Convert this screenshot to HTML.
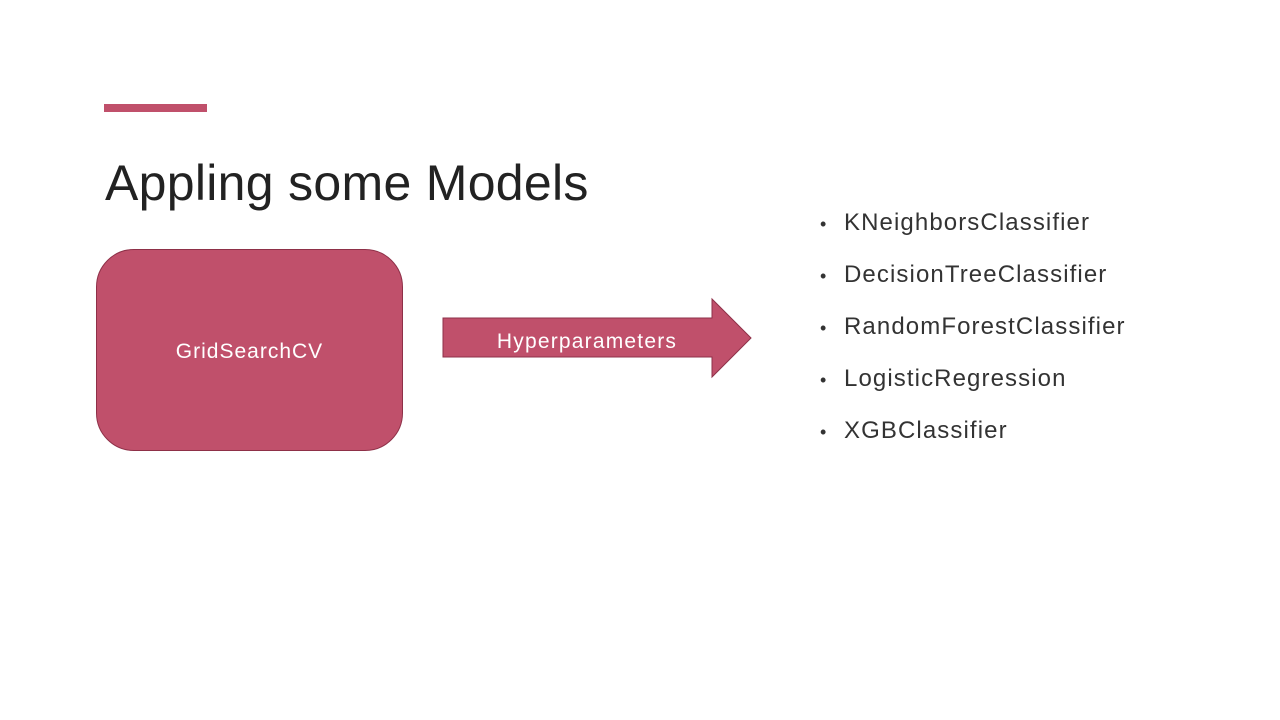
<!DOCTYPE html>
<html><head><meta charset="utf-8"><style>
body{margin:0;width:1280px;height:720px;background:#fff;position:relative;overflow:hidden;font-family:"Liberation Sans",sans-serif;}
.bar{position:absolute;left:104px;top:104px;width:103px;height:8px;background:#c0506b;}
h1{position:absolute;left:105px;top:154px;margin:0;font-weight:normal;font-size:50px;color:#222;letter-spacing:0.3px;}
.box{position:absolute;left:96px;top:249px;width:307px;height:202px;background:#c0506b;border:1px solid #8e3048;border-radius:38px;box-sizing:border-box;color:#fff;font-size:21px;letter-spacing:1px;display:flex;align-items:center;justify-content:center;padding-top:4px;}
ul{position:absolute;left:820px;top:205px;margin:0;padding:0;list-style:none;font-size:24px;color:#333;letter-spacing:1.1px;}
li{height:52px;line-height:36px;}
li:before{content:"•";font-size:18px;display:inline-block;width:24px;letter-spacing:0;}
</style></head><body>
<div class="bar"></div>
<h1>Appling some Models</h1>
<div class="box">GridSearchCV</div>
<svg style="position:absolute;left:0;top:0" width="1280" height="720">
<polygon points="443,318 712,318 712,299 751,338 712,377 712,357 443,357" fill="#c0506b" stroke="#8e3048" stroke-width="1"/>
<text x="587" y="348" fill="#fff" font-size="21" letter-spacing="1.2" text-anchor="middle" font-family="Liberation Sans, sans-serif">Hyperparameters</text>
</svg>
<ul>
<li>KNeighborsClassifier</li>
<li>DecisionTreeClassifier</li>
<li>RandomForestClassifier</li>
<li>LogisticRegression</li>
<li>XGBClassifier</li>
</ul>
</body></html>
